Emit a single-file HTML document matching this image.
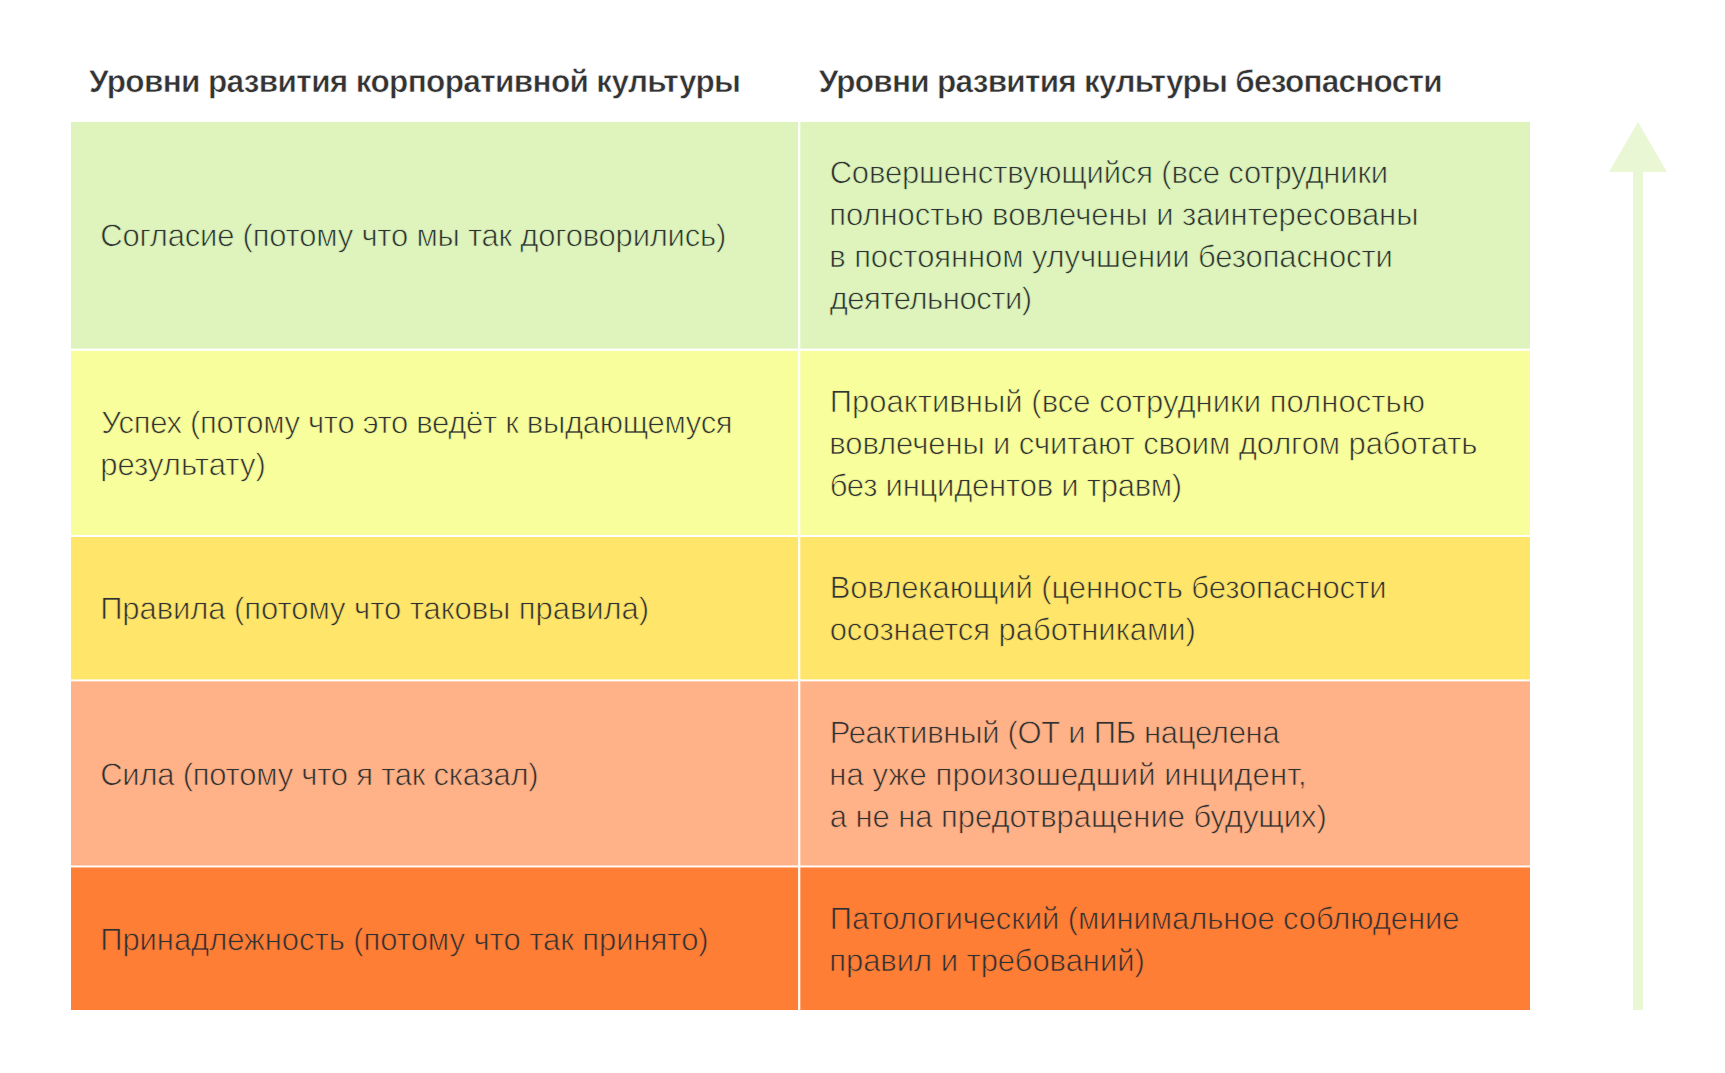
<!DOCTYPE html>
<html lang="ru"><head><meta charset="utf-8"><title>Уровни развития культуры</title>
<style>
html,body{margin:0;padding:0;background:#fff;}
body{width:1725px;height:1073px;position:relative;overflow:hidden;font-family:"Liberation Sans",sans-serif;color:#333;text-rendering:geometricPrecision;}
.c{position:absolute;}
.t{position:absolute;white-space:nowrap;line-height:42px;font-size:31.0px;color:#2f3232;}
.h{font-weight:bold;font-size:31.5px;color:#333;}
</style></head><body>
<svg class="c" style="left:0;top:0" width="1725" height="1073" viewBox="0 0 1725 1073">
<rect x="71" y="122" width="727.1" height="226.60" fill="#DEF4BC"/>
<rect x="800.3" y="122" width="729.7" height="226.60" fill="#DEF4BC"/>
<rect x="71" y="350.8" width="727.1" height="184.20" fill="#F9FE9D"/>
<rect x="800.3" y="350.8" width="729.7" height="184.20" fill="#F9FE9D"/>
<rect x="71" y="537" width="727.1" height="142.40" fill="#FFE56A"/>
<rect x="800.3" y="537" width="729.7" height="142.40" fill="#FFE56A"/>
<rect x="71" y="681.35" width="727.1" height="184.15" fill="#FFB287"/>
<rect x="800.3" y="681.35" width="729.7" height="184.15" fill="#FFB287"/>
<rect x="71" y="867.45" width="727.1" height="142.55" fill="#FF7E35"/>
<rect x="800.3" y="867.45" width="729.7" height="142.55" fill="#FF7E35"/>
<path d="M1638 122 L1667 172 L1643 172 L1643 1010 L1633 1010 L1633 172 L1609 172 Z" fill="#E9F7D4"/>
</svg>
<div class="t h" style="left:88.95px;top:60.25px;letter-spacing:-0.627px;-webkit-text-stroke:0.5px #ffffff;">Уровни развития корпоративной культуры</div>
<div class="t h" style="left:818.65px;top:60.25px;letter-spacing:-0.719px;-webkit-text-stroke:0.5px #ffffff;">Уровни развития культуры безопасности</div>
<div class="t" style="left:100.25px;top:215.25px;letter-spacing:-0.215px;-webkit-text-stroke:0.7px #DEF4BC;">Согласие (потому что мы так договорились)</div>
<div class="t" style="left:101.15px;top:402.25px;letter-spacing:-0.304px;-webkit-text-stroke:0.7px #F9FE9D;">Успех (потому что это ведёт к выдающемуся</div>
<div class="t" style="left:100.15px;top:444.25px;letter-spacing:0.053px;-webkit-text-stroke:0.7px #F9FE9D;">результату)</div>
<div class="t" style="left:100.15px;top:588.25px;letter-spacing:-0.067px;-webkit-text-stroke:0.7px #FFE56A;">Правила (потому что таковы правила)</div>
<div class="t" style="left:100.15px;top:754.25px;letter-spacing:-0.230px;-webkit-text-stroke:0.7px #FFB287;">Сила (потому что я так сказал)</div>
<div class="t" style="left:100.15px;top:919.25px;letter-spacing:-0.043px;-webkit-text-stroke:0.7px #FF7E35;">Принадлежность (потому что так принято)</div>
<div class="t" style="left:829.65px;top:152.25px;letter-spacing:-0.163px;-webkit-text-stroke:0.7px #DEF4BC;">Совершенствующийся (все сотрудники</div>
<div class="t" style="left:829.25px;top:194.25px;letter-spacing:-0.068px;-webkit-text-stroke:0.7px #DEF4BC;">полностью вовлечены и заинтересованы</div>
<div class="t" style="left:829.25px;top:236.25px;letter-spacing:-0.097px;-webkit-text-stroke:0.7px #DEF4BC;">в постоянном улучшении безопасности</div>
<div class="t" style="left:829.65px;top:278.25px;letter-spacing:-0.475px;-webkit-text-stroke:0.7px #DEF4BC;">деятельности)</div>
<div class="t" style="left:829.65px;top:381.25px;letter-spacing:0.037px;-webkit-text-stroke:0.7px #F9FE9D;">Проактивный (все сотрудники полностью</div>
<div class="t" style="left:829.25px;top:423.25px;letter-spacing:-0.097px;-webkit-text-stroke:0.7px #F9FE9D;">вовлечены и считают своим долгом работать</div>
<div class="t" style="left:829.65px;top:465.25px;letter-spacing:-0.217px;-webkit-text-stroke:0.7px #F9FE9D;">без инцидентов и травм)</div>
<div class="t" style="left:829.75px;top:567.25px;letter-spacing:-0.081px;-webkit-text-stroke:0.7px #FFE56A;">Вовлекающий (ценность безопасности</div>
<div class="t" style="left:829.65px;top:609.25px;letter-spacing:-0.053px;-webkit-text-stroke:0.7px #FFE56A;">осознается работниками)</div>
<div class="t" style="left:829.65px;top:712.25px;letter-spacing:-0.289px;-webkit-text-stroke:0.7px #FFB287;">Реактивный (ОТ и ПБ нацелена</div>
<div class="t" style="left:829.25px;top:754.25px;letter-spacing:0.119px;-webkit-text-stroke:0.7px #FFB287;">на уже произошедший инцидент,</div>
<div class="t" style="left:829.65px;top:796.25px;letter-spacing:-0.048px;-webkit-text-stroke:0.7px #FFB287;">а не на предотвращение будущих)</div>
<div class="t" style="left:829.75px;top:898.25px;letter-spacing:-0.082px;-webkit-text-stroke:0.7px #FF7E35;">Патологический (минимальное соблюдение</div>
<div class="t" style="left:829.25px;top:940.25px;letter-spacing:-0.049px;-webkit-text-stroke:0.7px #FF7E35;">правил и требований)</div>
</body></html>
